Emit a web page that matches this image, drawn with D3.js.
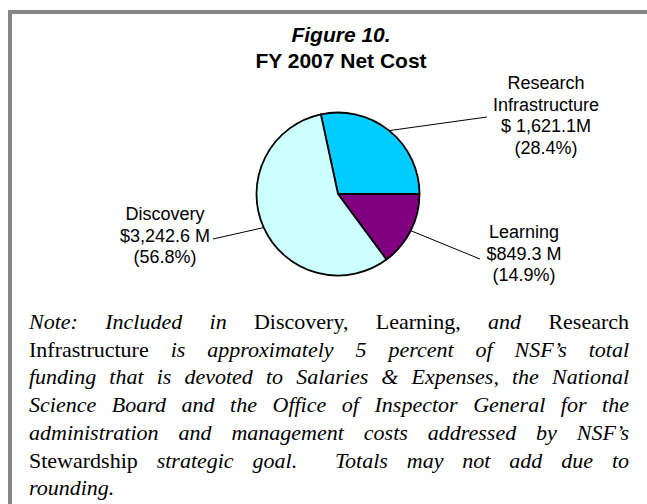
<!DOCTYPE html>
<html>
<head>
<meta charset="utf-8">
<script src="https://cdn.jsdelivr.net/npm/d3@7"></script>
<style>
  body { margin: 0; background: #fff; }
  svg { display: block; }
</style>
</head>
<body>
<div id="chart"></div>
<script>
"use strict"

// chart values
let categories = ["Research Infrastructure", "Learning", "Discovery"];
let nameLines = [["Research", "Infrastructure"], ["Learning"], ["Discovery"]];
let amounts = [1621.1, 849.3, 3242.6];
let amountLabels = ["$ 1,621.1M", "$849.3 M", "$3,242.6 M"];
let percentLabels = ["(28.4%)", "(14.9%)", "(56.8%)"];
let sliceColors = ["#00ccff", "#800080", "#ccffff"];

let titleLines = ["Figure 10.", "FY 2007 Net Cost"];

// note text, r = roman, i = italic ; "goal." is followed by a double space
let noteLines = [
    [["Note:", "i"], ["Included", "i"], ["in", "i"], ["Discovery,", "r"], ["Learning,", "r"], ["and", "i"], ["Research", "r"]],
    [["Infrastructure", "r"], ["is", "i"], ["approximately", "i"], ["5", "i"], ["percent", "i"], ["of", "i"], ["NSF\u2019s", "i"], ["total", "i"]],
    [["funding", "i"], ["that", "i"], ["is", "i"], ["devoted", "i"], ["to", "i"], ["Salaries", "i"], ["&", "i"], ["Expenses,", "i"], ["the", "i"], ["National", "i"]],
    [["Science", "i"], ["Board", "i"], ["and", "i"], ["the", "i"], ["Office", "i"], ["of", "i"], ["Inspector", "i"], ["General", "i"], ["for", "i"], ["the", "i"]],
    [["administration", "i"], ["and", "i"], ["management", "i"], ["costs", "i"], ["addressed", "i"], ["by", "i"], ["NSF\u2019s", "i"]],
    [["Stewardship", "r"], ["strategic", "i"], ["goal.", "i", 2], ["Totals", "i"], ["may", "i"], ["not", "i"], ["add", "i"], ["due", "i"], ["to", "i"]],
    [["rounding.", "i"]]
];

let width = 647, height = 504;
let sans = "Arial, 'Liberation Sans', sans-serif";
let serif = "'Times New Roman', 'Liberation Serif', serif";

let svg = d3.select("#chart").append("svg")
    .attr("width", width)
    .attr("height", height);

// frame
svg.append("rect")
    .attr("x", 10)
    .attr("y", 12)
    .attr("width", 700)
    .attr("height", 600)
    .style("fill", "#fff")
    .style("stroke", "#868686")
    .style("stroke-width", 4);

// title
svg.append("text")
    .attr("x", 341)
    .attr("y", 42)
    .attr("text-anchor", "middle")
    .style("font-family", sans)
    .style("font-size", "21px")
    .style("font-weight", "bold")
    .style("font-style", "italic")
    .text(titleLines[0]);

svg.append("text")
    .attr("x", 341)
    .attr("y", 68)
    .attr("text-anchor", "middle")
    .style("font-family", sans)
    .style("font-size", "21px")
    .style("font-weight", "bold")
    .text(titleLines[1]);

// pie
let cx = 338, cy = 194, r = 81.5;
let total = d3.sum(amounts);
let start = Math.PI / 2 - 2 * Math.PI * amounts[0] / total;

let pie = d3.pie()
    .sort(null)
    .value(function(d){ return d; })
    .startAngle(start)
    .endAngle(start + 2 * Math.PI);

let arc = d3.arc().innerRadius(0).outerRadius(r);
let edge = d3.arc().innerRadius(r).outerRadius(r);

let arcs = pie(amounts);

let g = svg.append("g").attr("transform", "translate(" + cx + "," + cy + ")");

g.selectAll("path")
    .data(arcs)
    .enter()
    .append("path")
    .attr("d", arc)
    .style("fill", function(d, i){ return sliceColors[i]; })
    .style("stroke", "#000")
    .style("stroke-width", 1.8)
    .style("stroke-linejoin", "round");

// label layout: text centre x, first baseline, leader line end
let labelX = [546, 524, 165];
let labelY = [89, 238, 220];
let leaderEnd = [[487, 117], [480, 259], [213, 239]];
let lineGap = 21.5;

for(let i = 0; i < categories.length; i++){
    let c = edge.centroid(arcs[i]);
    svg.append("line")
        .attr("x1", cx + c[0])
        .attr("y1", cy + c[1])
        .attr("x2", leaderEnd[i][0])
        .attr("y2", leaderEnd[i][1])
        .style("stroke", "#000")
        .style("stroke-width", 1);

    let rows = nameLines[i].concat([amountLabels[i], percentLabels[i]]);
    let t = svg.append("text")
        .attr("text-anchor", "middle")
        .style("font-family", sans)
        .style("font-size", "18px")
        .style("fill", "#000");
    rows.forEach(function(s, k){
        t.append("tspan")
            .attr("x", labelX[i])
            .attr("y", labelY[i] + k * lineGap)
            .text(s);
    });
}

// note, justified between left and right
let noteLeft = 29, noteRight = 629, noteTop = 329, noteStep = 27.7;

noteLines.forEach(function(words, li){
    let t = svg.append("text")
        .attr("y", noteTop + li * noteStep)
        .style("font-family", serif)
        .style("font-size", "22px")
        .style("fill", "#000");
    let spans = words.map(function(w){
        return t.append("tspan")
            .style("font-style", w[1] == "i" ? "italic" : "normal")
            .text(w[0]);
    });
    let widths = spans.map(function(s){ return s.node().getComputedTextLength(); });
    let last = li == noteLines.length - 1;
    let units = 0;
    for(let k = 0; k < words.length - 1; k++) units += (words[k][2] || 1);
    let gap = last ? 5 : (noteRight - noteLeft - d3.sum(widths)) / units;
    let x = noteLeft;
    spans.forEach(function(s, k){
        s.attr("x", x);
        x += widths[k] + gap * (words[k][2] || 1);
    });
});
</script>
</body>
</html>
